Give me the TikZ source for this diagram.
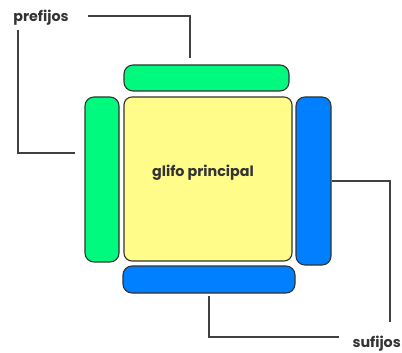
\documentclass[tikz,border=0pt]{standalone}
\usepackage{fontspec}
\setmainfont{Poppins}
\begin{document}
\begin{tikzpicture}[x=1pt,y=-1pt,
  bar/.style={draw=black!80,line width=1.1pt,rounded corners=9pt},
  greenbar/.style={bar,fill={rgb,255:red,0;green,250;blue,125}},
  bluebar/.style={bar,fill={rgb,255:red,0;green,128;blue,255}},
  core/.style={draw=black!80,line width=1.1pt,rounded corners=8pt,fill={rgb,255:red,255;green,252;blue,138}},
  lead/.style={draw=black!75,line width=1.1pt},
  lbl/.style={font=\fontsize{14.3}{15}\selectfont\bfseries,inner sep=0pt,text=black!80}]
\useasboundingbox (0,0) rectangle (402,353);
% main glyph and the four affix bars
\draw[core] (124,97) rectangle (292,261);
\node[lbl] (main) at (203,173) {glifo principal};
\draw[greenbar] (124,65) rectangle (289,91);
\draw[greenbar] (85,97) rectangle (119,262);
\draw[bluebar] (296,97) rectangle (331,265);
\draw[bluebar] (123,266) rectangle (295,293);
% labels
\node[lbl] (pre) at (41,18) {prefijos};
\node[lbl,anchor=east] (suf) at (401,344) {sufijos};
% leader lines
\draw[lead] (88,16) -- (190,16) -- (190,58);
\draw[lead] (18,30) -- (18,153) -- (75,153);
\draw[lead] (332,181) -- (390,181) -- (390,322);
\draw[lead] (209,296) -- (209,337) -- (339,337);
\end{tikzpicture}
\end{document}
